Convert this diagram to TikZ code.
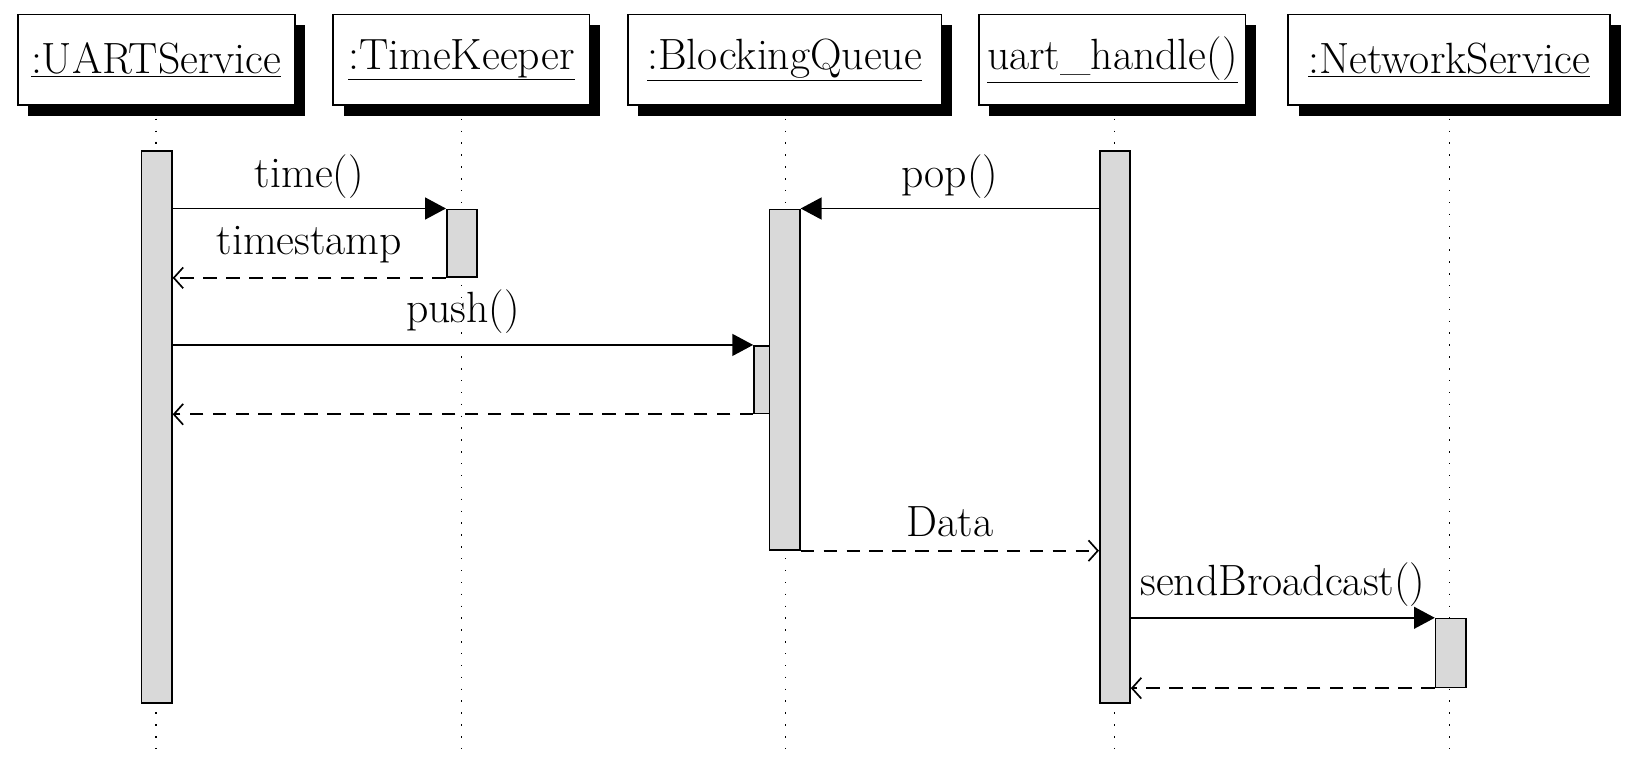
\documentclass[tikz,border=0pt]{standalone}
\usetikzlibrary{arrows.meta,shadows}
\begin{document}
\begin{tikzpicture}[x=1pt,y=-1pt, line width=1.6pt,
  font=\fontsize{42}{50}\selectfont,
  obj/.style={draw, fill=white, minimum height=87pt, inner sep=0pt,
    general shadow={fill=black, shadow xshift=10pt, shadow yshift=-10pt}},
  act/.style={draw, fill=black!15, minimum width=29pt, inner sep=0pt},
  life/.style={line width=1.4pt, dash pattern=on 1.4pt off 10pt},
  call/.style={-{Triangle[length=20pt,width=21pt]}},
  ret/.style={dash pattern=on 13pt off 9pt, -{Straight Barb[length=9pt,width=20pt]}},
  lbl/.style={anchor=base, inner sep=0pt}]
\useasboundingbox (0,0) rectangle (1568,736.5);
% header boxes
\node[obj, minimum width=266pt] (uart) at (150,57.5) {\underline{:UARTService}};
\node[obj, minimum width=246pt] (tk) at (443,57.5) {\underline{:TimeKeeper}};
\node[obj, minimum width=301pt] (bq) at (753.5,57.5) {\underline{:BlockingQueue}};
\node[obj, minimum width=256pt] (uh) at (1068,57.5) {\underline{uart\_handle()}};
\node[obj, minimum width=309pt] (ns) at (1391.5,57.5) {\underline{:NetworkService}};
% lifelines
\coordinate (uartend) at (150,720);
\coordinate (tkend) at (443,720);
\coordinate (bqend) at (754,720);
\coordinate (uhend) at (1070,720);
\coordinate (nsend) at (1392,720);
\draw[life] (uartend |- 0,114) -- (uartend);
\draw[life] (tkend |- 0,114) -- (tkend);
\draw[life] (bqend |- 0,114) -- (bqend);
\draw[life] (uhend |- 0,114) -- (uhend);
\draw[life] (nsend |- 0,114) -- (nsend);
% activations
\node[act, minimum height=530pt] (uartact) at (150.5,410) {};
\node[act, minimum height=65pt] (tkact) at (443.5,233.5) {};
\node[act, minimum height=327pt] (bqact) at (753.5,364.5) {};
\node[act, minimum width=15pt, minimum height=65pt] (bqact2) at (731.5,364.5) {};
\node[act, minimum height=530pt] (uhact) at (1070.5,410) {};
\node[act, minimum height=66pt] (nsact) at (1393,627) {};
% messages
\draw[call] (uartact.east |- tkact.north) -- (tkact.north west)
  node[midway, lbl, yshift=20pt] {time()};
\draw[ret] (tkact.south west) -- (uartact.east |- tkact.south)
  node[midway, lbl, yshift=22pt] {timestamp};
\draw[call] (uartact.east |- bqact2.north) -- (bqact2.north west)
  node[midway, lbl, yshift=22pt] {push()};
\draw[ret] (bqact2.south west) -- (uartact.east |- bqact2.south);
\draw[call] (uhact.west |- bqact.north) -- (bqact.north east)
  node[midway, lbl, yshift=20pt] {pop()};
\draw[ret] (bqact.south east) -- (uhact.west |- bqact.south)
  node[midway, lbl, yshift=14pt] {Data};
\draw[call] (uhact.east |- nsact.north) -- (nsact.north west)
  node[midway, lbl, yshift=21pt] {sendBroadcast()};
\draw[ret] (nsact.south west) -- (uhact.east |- nsact.south);
\end{tikzpicture}
\end{document}
